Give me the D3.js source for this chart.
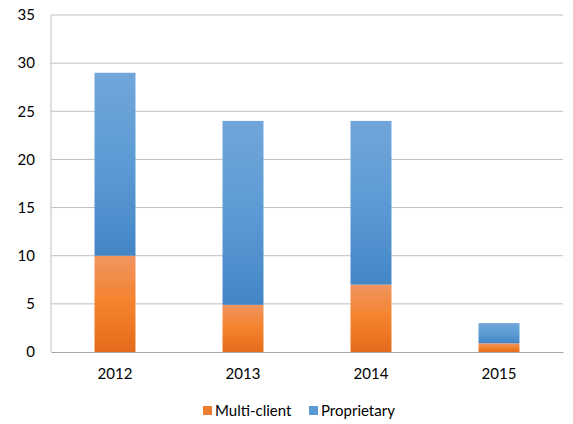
<!DOCTYPE html>
<html>
<head>
<meta charset="utf-8">
<script src="https://cdn.jsdelivr.net/npm/d3@7/dist/d3.min.js"></script>
<style>
  body { margin: 0; background: #fff; }
  text { font-family: Lato, "Open Sans", sans-serif; fill: #000; }
</style>
</head>
<body>
<div id="chart"></div>
<script>
// data
const years = ["2012", "2013", "2014", "2015"];
const multiClient = [10, 4.9, 7, 0.9];
const proprietary = [19, 19.1, 17, 2.1];
const seriesNames = ["Multi-client", "Proprietary"];
const yTicks = [0, 5, 10, 15, 20, 25, 30, 35];

var margin = {top: 15, right: 10, bottom: 72, left: 51},
    width = 573 - margin.left - margin.right,
    height = 424 - margin.top - margin.bottom;

var svg = d3.select("#chart")
  .append("svg")
  .attr("width", 573)
  .attr("height", 424);

// gradients, one per series (applied per bar segment)
var defs = svg.append("defs");
function grad(id, stops) {
  var g = defs.append("linearGradient").attr("id", id)
    .attr("x1", 0).attr("y1", 0).attr("x2", 0).attr("y2", 1);
  stops.forEach(function(s) {
    g.append("stop").attr("offset", s[0]).attr("stop-color", s[1]);
  });
}
grad("gOrange", [[0, "#f19560"], [0.5, "#f4822c"], [1, "#e46b1c"]]);
grad("gBlue", [[0, "#72a6da"], [0.5, "#5b9bd5"], [1, "#4485c6"]]);
const fills = ["url(#gOrange)", "url(#gBlue)"];
const legendColors = ["#ed7d31", "#5b9bd5"];

var g = svg.append("g")
  .attr("transform", "translate(" + margin.left + "," + margin.top + ")");

var x = d3.scaleBand().domain(years).range([0, width]).paddingInner(0.68).paddingOuter(0.34);
var y = d3.scaleLinear().domain([0, 35]).range([height, 0]);

// gridlines
g.selectAll("line.grid")
  .data(yTicks.filter(function(d) { return d > 0; }))
  .enter()
  .append("line")
  .attr("x1", 0).attr("x2", width)
  .attr("y1", function(d) { return y(d); })
  .attr("y2", function(d) { return y(d); })
  .attr("stroke", "#bfbfbf").attr("stroke-width", 1);

// left axis line
g.append("line")
  .attr("x1", 0).attr("x2", 0).attr("y1", 0).attr("y2", height)
  .attr("stroke", "#bfbfbf");

// y axis labels
var yAxis = g.append("g")
  .call(d3.axisLeft(y).tickValues(yTicks).tickSize(0).tickPadding(16));
yAxis.select(".domain").remove();
yAxis.selectAll("text").style("font-size", "15px").attr("font-family", null);

// stacked bars
var rows = years.map(function(yr, i) {
  return {year: yr, "Multi-client": multiClient[i], "Proprietary": proprietary[i]};
});
var stack = d3.stack().keys(seriesNames)(rows);

stack.forEach(function(layer, li) {
  g.selectAll("rect.s" + li)
    .data(layer)
    .enter()
    .append("rect")
    .attr("x", function(d) { return x(d.data.year); })
    .attr("y", function(d) { return y(d[1]); })
    .attr("width", x.bandwidth())
    .attr("height", function(d) { return y(d[0]) - y(d[1]); })
    .attr("fill", fills[li]);
});

// x axis
var xAxis = g.append("g")
  .attr("transform", "translate(0," + height + ")")
  .call(d3.axisBottom(x).tickSize(0).tickPadding(16));
xAxis.select(".domain").attr("stroke", "#a6a6a6");
xAxis.selectAll("text").style("font-size", "15px").attr("font-family", null);

// legend
var legend = svg.append("g").attr("transform", "translate(203,411)");
var lx = [0, 106];
seriesNames.forEach(function(name, i) {
  var item = legend.append("g").attr("transform", "translate(" + lx[i] + ",0)");
  item.append("rect").attr("x", 0).attr("y", -5).attr("width", 9).attr("height", 9)
    .attr("fill", legendColors[i]);
  item.append("text").attr("x", 12).attr("y", 0).attr("dy", "0.35em")
    .style("font-size", "15px").text(name);
});
</script>
</body>
</html>
